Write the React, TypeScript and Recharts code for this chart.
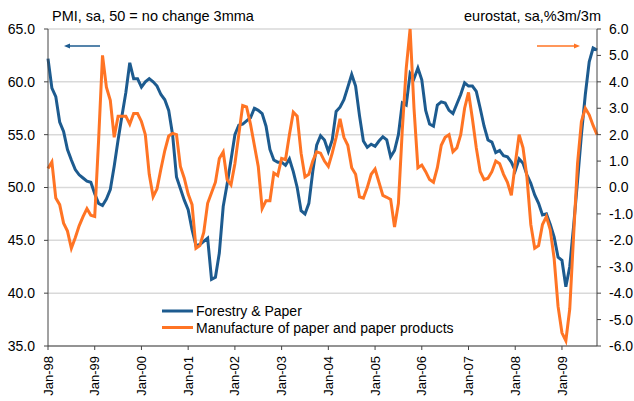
import { LineChart, Line, XAxis, YAxis, CartesianGrid } from "recharts"

const monthNames = ["Jan", "Feb", "Mar", "Apr", "May", "Jun", "Jul", "Aug", "Sep", "Oct", "Nov", "Dec"]

// Jan-98 .. Oct-09
const months: string[] = []
for (let i = 0; i < 142; i++) {
  const yy = (98 + Math.floor(i / 12)) % 100
  months.push(`${monthNames[i % 12]}-${String(yy).padStart(2, "0")}`)
}

// PMI Forestry & Paper, 3mma (left axis)
const forestry = [
  62.2, 59.4, 58.6, 56.2, 55.3, 53.6, 52.6, 51.7, 51.2, 50.9, 50.6, 50.5,
  49.4, 48.5, 48.3, 48.9, 49.8, 52.0, 54.5, 56.8, 59.0, 61.8, 60.3, 60.3,
  59.5, 60.0, 60.3, 60.0, 59.6, 58.8, 58.3, 57.3, 55.0, 51.0, 49.9, 48.8,
  47.9, 46.0, 44.5, 44.6, 44.9, 45.2, 41.3, 41.5, 43.8, 48.2, 50.3, 52.6,
  55.0, 55.9, 56.0, 56.3, 56.6, 57.5, 57.3, 57.0, 55.8, 53.6, 52.6, 52.4,
  52.4, 52.1, 52.7, 51.5, 50.0, 47.8, 47.5, 48.5, 51.5, 54.0, 54.9, 54.5,
  53.4, 54.5, 57.2, 57.6, 58.3, 59.5, 60.7, 59.6, 56.8, 54.4, 53.8, 54.1,
  53.9, 54.4, 54.8, 54.5, 52.9, 53.5, 55.0, 58.0, 57.8, 60.8, 60.3, 61.3,
  60.2, 57.3, 56.0, 55.8, 57.8, 58.1, 58.0, 57.3, 57.0, 57.9, 58.8, 59.9,
  59.6, 59.6, 59.1, 57.5, 55.8, 54.5, 54.3, 53.3, 53.5, 53.0, 52.9, 52.4,
  51.6, 52.7, 52.3, 51.2, 50.4, 49.3, 48.5, 47.4, 47.5, 46.5, 45.3, 43.4,
  43.1, 40.6, 42.5, 46.4, 50.6, 55.0, 58.8, 61.9, 63.2, 63.0,
]

// eurostat manufacture of paper, %3m/3m (right axis)
const manufacture = [
  0.72, 0.97, -0.4, -0.65, -1.35, -1.65, -2.3, -1.9, -1.45, -1.1, -0.8, -1.05,
  -1.1, 1.8, 5.0, 3.8, 3.3, 1.9, 2.7, 2.7, 2.7, 2.4, 2.8, 2.8,
  2.5, 2.0, 0.5, -0.35, -0.05, 0.7, 1.4, 1.95, 2.05, 2.0, 0.8, 0.35,
  -0.25, -0.65, -2.3, -2.2, -1.7, -0.6, -0.2, 0.2, 1.1, 1.35, 0.3, 0.1,
  0.9, 2.0, 3.1, 3.05, 2.4, 1.6, 0.8, -0.8, -0.5, -0.5, 0.55, 0.45,
  1.1, 1.05, 2.0, 2.85, 2.7, 1.3, 0.4, 0.5, 1.0, 1.35, 1.3, 1.0,
  0.8, 1.3, 1.9, 2.6, 1.9, 1.6, 0.75, 0.5, -0.35, -0.4, 0.0, 0.5,
  0.7, 0.2, -0.3, -0.37, -0.45, -1.5, -0.6, 2.2, 4.5, 6.0, 3.0, 0.75,
  0.85, 0.6, 0.3, 0.2, 0.75, 1.6, 1.9, 2.0, 1.35, 1.5, 2.0, 3.0,
  3.6, 2.6, 1.5, 0.6, 0.3, 0.35, 0.6, 1.0, 0.9, 0.5, 0.2, -0.3,
  0.9, 2.0, 1.5, 0.4, -1.4, -2.3, -2.2, -1.4, -1.1, -1.6, -2.7, -4.5,
  -5.5, -5.8, -4.6, -1.8, 0.9, 2.5, 3.0, 2.75, 2.35, 2.0,
]

const leftTicks = [35, 40, 45, 50, 55, 60, 65]
const rightTicks = [-6, -5, -4, -3, -2, -1, 0, 1, 2, 3, 4, 5, 6]

const BLUE = "#1d5b8f"
const ORANGE = "#ff7424"
const FONT = "'Liberation Sans', Arial, sans-serif"

const data = months.map((m, i) => ({
  month: m,
  forestry: forestry[i],
  manufacture: manufacture[i],
}))

function XTick({ x, y, payload }: any) {
  return (
    <g transform={`translate(${x},${y + 4})`}>
      <text transform="rotate(-90)" x={0} y={0} dy="0.35em" textAnchor="end" fontSize={13} fill="#000" fontFamily={FONT}>
        {payload.value}
      </text>
    </g>
  )
}

export default function App() {
  return (
    <div style={{ position: "absolute", left: 0, top: 0, width: 634, height: 401, background: "#fff", fontFamily: FONT }}>
      <LineChart width={634} height={401} data={data} margin={{ top: 29, right: 0, bottom: 0, left: 0 }}>
        <CartesianGrid yAxisId="left" vertical={false} stroke="#d9d9d9" strokeWidth={1.5} />
        <XAxis
          dataKey="month"
          interval={11}
          height={55}
          tickSize={4}
          tickMargin={2}
          tick={<XTick />}
          axisLine={{ stroke: "#444" }}
          tickLine={{ stroke: "#444" }}
        />
        <YAxis
          yAxisId="left"
          domain={[35, 65]}
          ticks={leftTicks}
          width={48}
          tickSize={4}
          tickMargin={9}
          tickFormatter={(v: number) => v.toFixed(1)}
          tick={{ fontSize: 14, fill: "#000", fontFamily: FONT }}
          axisLine={{ stroke: "#444" }}
          tickLine={{ stroke: "#444" }}
        />
        <YAxis
          yAxisId="right"
          orientation="right"
          domain={[-6, 6]}
          ticks={rightTicks}
          width={37}
          tickSize={4}
          tickMargin={8}
          tickFormatter={(v: number) => v.toFixed(1)}
          tick={{ fontSize: 14, fill: "#000", fontFamily: FONT, textAnchor: "start" }}
          axisLine={{ stroke: "#444" }}
          tickLine={{ stroke: "#444" }}
        />
        <Line yAxisId="left" type="linear" dataKey="forestry" stroke={BLUE} strokeWidth={3} dot={false} isAnimationActive={false} />
        <Line yAxisId="right" type="linear" dataKey="manufacture" stroke={ORANGE} strokeWidth={3} dot={false} isAnimationActive={false} />
      </LineChart>
      <svg width={634} height={401} style={{ position: "absolute", left: 0, top: 0, pointerEvents: "none" }}>
        <text x={52} y={21} fontSize={14.5} fill="#000" fontFamily={FONT}>PMI, sa, 50 = no change 3mma</text>
        <text x={601} y={21} fontSize={14.5} fill="#000" fontFamily={FONT} textAnchor="end">eurostat, sa,%3m/3m</text>
        <line x1={100} y1={46} x2={68} y2={46} stroke={BLUE} strokeWidth={1.5} />
        <path d="M64,46 L70,43.5 L70,48.5 Z" fill={BLUE} />
        <line x1={537} y1={46} x2={575} y2={46} stroke={ORANGE} strokeWidth={1.5} />
        <path d="M580,46 L574,43.5 L574,48.5 Z" fill={ORANGE} />
        <line x1={162} y1={311} x2={193} y2={311} stroke={BLUE} strokeWidth={3} />
        <text x={196} y={316} fontSize={14} fill="#000" fontFamily={FONT}>Forestry &amp; Paper</text>
        <line x1={162} y1={327.5} x2={193} y2={327.5} stroke={ORANGE} strokeWidth={3} />
        <text x={196} y={332.5} fontSize={14} fill="#000" fontFamily={FONT}>Manufacture of paper and paper products</text>
      </svg>
    </div>
  )
}
